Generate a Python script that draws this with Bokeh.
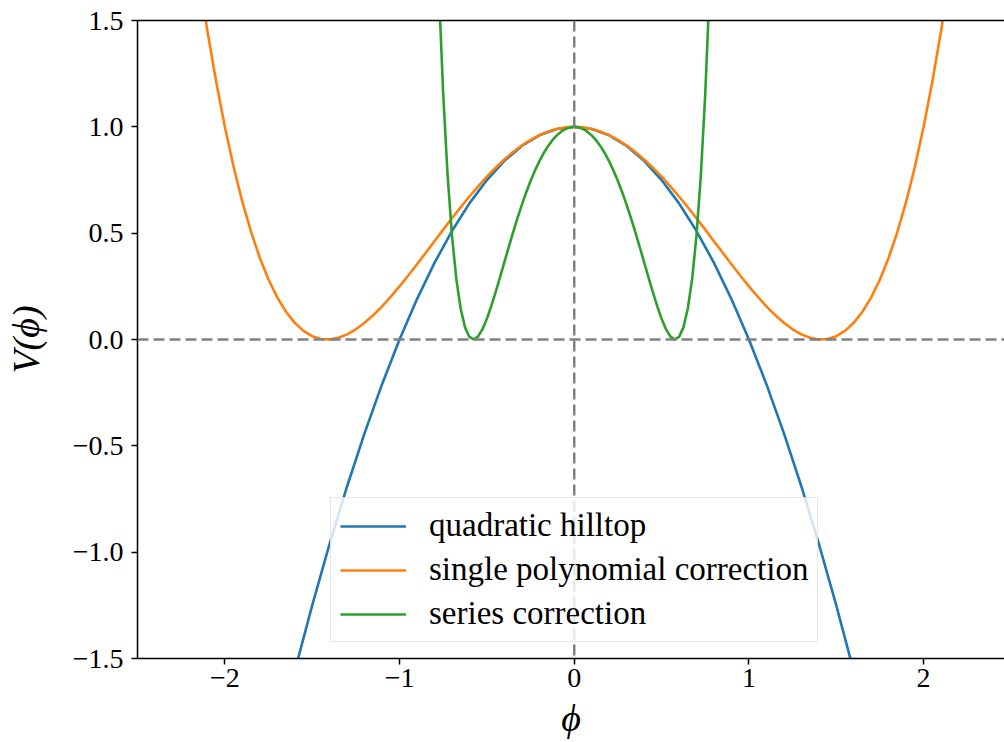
from bokeh.plotting import figure
from bokeh.models import Span, LinearAxis, FixedTicker, Legend, LegendItem, Range1d
from bokeh.embed import file_html
from bokeh.resources import INLINE

# quadratic hilltop potential
phi_quad = [-1.6, -1.5, -1.4, -1.3, -1.2, -1.1, -1.0, -0.9, -0.8, -0.7, -0.6, -0.5,
            -0.4, -0.3, -0.2, -0.1, 0.0, 0.1, 0.2, 0.3, 0.4, 0.5, 0.6, 0.7, 0.8, 0.9,
            1.0, 1.1, 1.2, 1.3, 1.4, 1.5, 1.6]
v_quad = [-1.56, -1.25, -0.96, -0.69, -0.44, -0.21, 0.0, 0.19, 0.36, 0.51, 0.64, 0.75,
          0.84, 0.91, 0.96, 0.99, 1.0, 0.99, 0.96, 0.91, 0.84, 0.75, 0.64, 0.51, 0.36, 0.19,
          0.0, -0.21, -0.44, -0.69, -0.96, -1.25, -1.56]

# single polynomial correction
phi_poly = [-2.15, -2.1, -2.05, -2.0, -1.95, -1.9, -1.85, -1.8, -1.75, -1.7, -1.65, -1.6,
            -1.55, -1.5, -1.45, -1.4, -1.35, -1.3, -1.25, -1.2, -1.15, -1.1, -1.05, -1.0,
            -0.95, -0.9, -0.85, -0.8, -0.75, -0.7, -0.65, -0.6, -0.55, -0.5, -0.45, -0.4,
            -0.35, -0.3, -0.25, -0.2, -0.15, -0.1, -0.05, 0.0, 0.05, 0.1, 0.15, 0.2, 0.25,
            0.3, 0.35, 0.4, 0.45, 0.5, 0.55, 0.6, 0.65, 0.7, 0.75, 0.8, 0.85, 0.9, 0.95,
            1.0, 1.05, 1.1, 1.15, 1.2, 1.25, 1.3, 1.35, 1.4, 1.45, 1.5, 1.55, 1.6, 1.65,
            1.7, 1.75, 1.8, 1.85, 1.9, 1.95, 2.0, 2.05, 2.1, 2.15]
v_poly = [1.7194, 1.4520, 1.2128, 1.0, 0.8123, 0.6480, 0.5059, 0.3844, 0.2822, 0.1980,
          0.1305, 0.0784, 0.0405, 0.0156, 0.0026, 0.0004, 0.0079, 0.0240, 0.0479, 0.0784,
          0.1148, 0.1560, 0.2014, 0.25, 0.3011, 0.3540, 0.4080, 0.4624, 0.5166, 0.5700,
          0.6221, 0.6724, 0.7204, 0.7656, 0.8078, 0.8464, 0.8813, 0.9120, 0.9385, 0.9604,
          0.9776, 0.9900, 0.9975, 1.0, 0.9975, 0.9900, 0.9776, 0.9604, 0.9385, 0.9120,
          0.8813, 0.8464, 0.8078, 0.7656, 0.7204, 0.6724, 0.6221, 0.5700, 0.5166, 0.4624,
          0.4080, 0.3540, 0.3011, 0.25, 0.2014, 0.1560, 0.1148, 0.0784, 0.0479, 0.0240,
          0.0079, 0.0004, 0.0026, 0.0156, 0.0405, 0.0784, 0.1305, 0.1980, 0.2822, 0.3844,
          0.5059, 0.6480, 0.8123, 1.0, 1.2128, 1.4520, 1.7194]

# series correction
phi_series = [-0.775, -0.75, -0.725, -0.7, -0.675, -0.65, -0.625, -0.6, -0.575, -0.55,
              -0.525, -0.5, -0.475, -0.45, -0.425, -0.4, -0.375, -0.35, -0.325, -0.3,
              -0.275, -0.25, -0.225, -0.2, -0.175, -0.15, -0.125, -0.1, -0.075, -0.05,
              -0.025, 0.0, 0.025, 0.05, 0.075, 0.1, 0.125, 0.15, 0.175, 0.2, 0.225, 0.25,
              0.275, 0.3, 0.325, 0.35, 0.375, 0.4, 0.425, 0.45, 0.475, 0.5, 0.525, 0.55,
              0.575, 0.6, 0.625, 0.65, 0.675, 0.7, 0.725, 0.75, 0.775]
v_series = [1.6474, 1.1539, 0.7746, 0.4904, 0.2852, 0.1448, 0.0571, 0.0118, 0.0001, 0.0145,
            0.0488, 0.0977, 0.1568, 0.2228, 0.2925, 0.3639, 0.4348, 0.5041, 0.5705, 0.6331,
            0.6915, 0.7453, 0.7940, 0.8376, 0.8760, 0.9091, 0.9371, 0.9598, 0.9774, 0.9900,
            0.9975, 1.0, 0.9975, 0.9900, 0.9774, 0.9598, 0.9371, 0.9091, 0.8760, 0.8376,
            0.7940, 0.7453, 0.6915, 0.6331, 0.5705, 0.5041, 0.4348, 0.3639, 0.2925, 0.2228,
            0.1568, 0.0977, 0.0488, 0.0145, 0.0001, 0.0118, 0.0571, 0.1448, 0.2852, 0.4904,
            0.7746, 1.1539, 1.6474]

series_labels = ["quadratic hilltop", "single polynomial correction", "series correction"]
series_colors = ["#1f77b4", "#ff7f0e", "#2ca02c"]

x_ticks = [-2, -1, 0, 1, 2]
x_tick_labels = ["\u22122", "\u22121", "0", "1", "2"]
y_ticks = [-1.5, -1.0, -0.5, 0.0, 0.5, 1.0, 1.5]
y_tick_labels = ["\u22121.5", "\u22121.0", "\u22120.5", "0.0", "0.5", "1.0", "1.5"]

FONT = "Liberation Serif"

p = figure(width=1004, height=742, output_backend="svg", toolbar_location=None,
           x_range=Range1d(-2.5, 2.463), y_range=Range1d(-1.5, 1.5),
           min_border_left=137, min_border_right=0, min_border_top=20,
           min_border_bottom=84)
p.outline_line_color = None
p.xgrid.visible = False
p.ygrid.visible = False
p.background_fill_color = "white"
p.border_fill_color = "white"

for ax, ticks, labels in ((p.xaxis[0], x_ticks, x_tick_labels), (p.yaxis[0], y_ticks, y_tick_labels)):
    ax.ticker = FixedTicker(ticks=ticks)
    ax.major_label_overrides = {t: l for t, l in zip(ticks, labels)}
    ax.minor_tick_line_color = None
    ax.major_tick_in = 0
    ax.major_tick_out = 6
    ax.major_tick_line_width = 1.5
    ax.major_tick_line_color = "black"
    ax.axis_line_width = 1.5
    ax.axis_line_color = "black"
    ax.major_label_text_font = FONT
    ax.major_label_text_font_size = "28px"
    ax.major_label_text_color = "black"
    ax.axis_label_text_font = FONT
    ax.axis_label_text_font_size = "38px"
    ax.axis_label_text_font_style = "italic"
    ax.axis_label_text_color = "black"

p.xaxis.axis_label = "\u03d5"
p.yaxis.axis_label = "V(\u03d5)"
p.xaxis.major_label_standoff = 4
p.yaxis.major_label_standoff = 8
p.xaxis.axis_label_standoff = 7
p.yaxis.axis_label_standoff = 23

# top spine
top = LinearAxis(ticker=FixedTicker(ticks=[]), major_tick_out=0, major_tick_in=0,
                 minor_tick_line_color=None, major_label_text_font_size="0px",
                 axis_line_width=1.5, axis_line_color="black")
p.add_layout(top, "above")

r1 = p.line(phi_quad, v_quad, line_color=series_colors[0], line_width=2.6)
r2 = p.line(phi_poly, v_poly, line_color=series_colors[1], line_width=2.6)
r3 = p.line(phi_series, v_series, line_color=series_colors[2], line_width=2.6)

p.add_layout(Span(location=0, dimension="width", line_color="#808080",
                  line_width=2.5, line_dash="11 5"))
p.add_layout(Span(location=0, dimension="height", line_color="#808080",
                  line_width=2.5, line_dash="11 5"))

legend = Legend(items=[LegendItem(label=lab, renderers=[r])
                       for lab, r in zip(series_labels, [r1, r2, r3])],
                location=(193, 16), glyph_width=66, glyph_height=36,
                label_height=36, label_standoff=23, padding=9, spacing=7,
                margin=0, label_text_font=FONT, label_text_font_size="33px",
                label_text_color="black", border_line_color="#cccccc",
                border_line_width=1.5, background_fill_alpha=0.8)
p.add_layout(legend)

open("out.html", "w").write(file_html(p, INLINE))
